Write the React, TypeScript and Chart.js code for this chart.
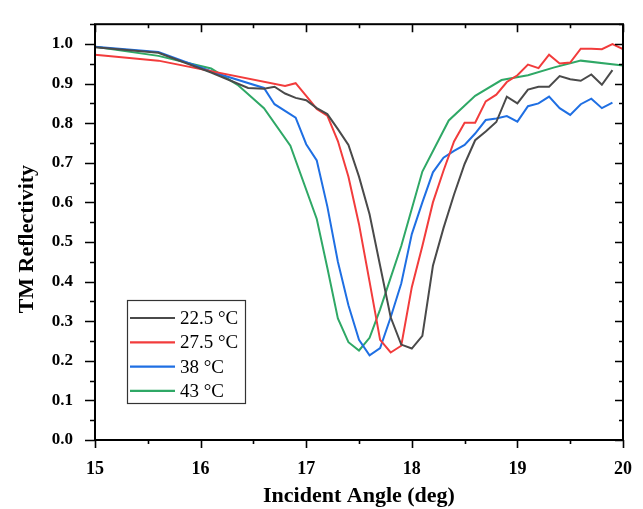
import { useEffect, useRef } from 'react';
import { Chart, registerables } from 'chart.js';

Chart.register(...registerables);

// ---- Data ----
const seriesLabels = ['22.5 °C', '27.5 °C', '38 °C', '43 °C'];
const seriesColors = ['#4a4a4a', '#f23c3c', '#1f6fe3', '#2fa866'];

const angles225 = [15.0, 15.6, 16.1, 16.45, 16.6, 16.7, 16.8, 16.9, 17.0, 17.1, 17.2, 17.3, 17.4, 17.5, 17.6, 17.7, 17.8, 17.9, 18.0, 18.1, 18.2, 18.3, 18.4, 18.5, 18.6, 18.7, 18.8, 18.9, 19.0, 19.1, 19.2, 19.3, 19.4, 19.5, 19.6, 19.7, 19.8, 19.9];
const values225 = [0.992, 0.978, 0.928, 0.889, 0.887, 0.892, 0.875, 0.864, 0.858, 0.838, 0.823, 0.785, 0.745, 0.665, 0.57, 0.44, 0.31, 0.241, 0.231, 0.263, 0.44, 0.535, 0.62, 0.697, 0.757, 0.779, 0.803, 0.867, 0.85, 0.885, 0.892, 0.892, 0.919, 0.911, 0.907, 0.923, 0.897, 0.934];

const angles275 = [15.0, 15.6, 16.8, 16.9, 17.0, 17.1, 17.2, 17.3, 17.4, 17.5, 17.6, 17.7, 17.8, 17.9, 18.0, 18.1, 18.2, 18.3, 18.4, 18.5, 18.6, 18.7, 18.8, 18.9, 19.0, 19.1, 19.2, 19.3, 19.4, 19.5, 19.6, 19.7, 19.8, 19.9, 20.0];
const values275 = [0.973, 0.958, 0.894, 0.901, 0.869, 0.836, 0.819, 0.755, 0.665, 0.545, 0.4, 0.253, 0.221, 0.238, 0.386, 0.49, 0.6, 0.68, 0.754, 0.801, 0.801, 0.855, 0.872, 0.904, 0.921, 0.948, 0.939, 0.973, 0.951, 0.953, 0.988, 0.988, 0.987, 1.0, 0.987];

const angles38 = [15.0, 15.6, 16.15, 16.6, 16.7, 16.9, 17.0, 17.1, 17.2, 17.3, 17.4, 17.5, 17.6, 17.7, 17.8, 17.9, 18.0, 18.1, 18.2, 18.3, 18.4, 18.5, 18.6, 18.7, 18.8, 18.9, 19.0, 19.1, 19.2, 19.3, 19.4, 19.5, 19.6, 19.7, 19.8, 19.9];
const values38 = [0.993, 0.98, 0.926, 0.889, 0.848, 0.814, 0.747, 0.706, 0.59, 0.45, 0.34, 0.253, 0.214, 0.232, 0.31, 0.395, 0.52, 0.6, 0.676, 0.713, 0.73, 0.745, 0.774, 0.808, 0.812, 0.818, 0.804, 0.843, 0.85, 0.867, 0.838, 0.821, 0.848, 0.862, 0.838, 0.852];

const angles43 = [15.0, 15.6, 16.1, 16.35, 16.6, 16.85, 17.1, 17.2, 17.3, 17.4, 17.5, 17.6, 17.7, 17.8, 17.9, 18.1, 18.35, 18.6, 18.85, 19.1, 19.35, 19.6, 20.0];
const values43 = [0.993, 0.97, 0.938, 0.897, 0.838, 0.743, 0.558, 0.435, 0.307, 0.247, 0.226, 0.258, 0.33, 0.41, 0.49, 0.678, 0.807, 0.869, 0.909, 0.921, 0.941, 0.958, 0.946];

const xTickLabels = [15, 16, 17, 18, 19, 20];
const yTickLabels = [0.0, 0.1, 0.2, 0.3, 0.4, 0.5, 0.6, 0.7, 0.8, 0.9, 1.0];

const xTitle = 'Incident Angle (deg)';
const yTitle = 'TM Reflectivity';

const allAngles = [angles225, angles275, angles38, angles43];
const allValues = [values225, values275, values38, values43];

const SERIF = '"Liberation Serif", "Times New Roman", serif';

const framePlugin = {
  id: 'frame',
  afterDraw(chart: any) {
    const { ctx, chartArea, scales } = chart;
    const { left, right, top, bottom } = chartArea;
    const x = scales.x;
    const y = scales.y;
    ctx.save();
    ctx.strokeStyle = '#000';
    ctx.lineWidth = 2;
    ctx.strokeRect(left, top, right - left, bottom - top);

    ctx.lineWidth = 1.6;
    ctx.beginPath();
    for (let i = 0; i <= 10; i++) {
      const v = 15 + i * 0.5;
      const px = Math.round(x.getPixelForValue(v)) + 0.5;
      const major = i % 2 === 0;
      const len = major ? 8 : 4;
      ctx.moveTo(px, bottom);
      ctx.lineTo(px, bottom + len);
      ctx.moveTo(px, top);
      ctx.lineTo(px, top + len);
    }
    for (let i = 0; i <= 21; i++) {
      const v = i * 0.05;
      const py = Math.round(y.getPixelForValue(v)) + 0.5;
      const major = i % 2 === 0;
      ctx.moveTo(left, py);
      ctx.lineTo(left - (major ? 10 : 5), py);
      ctx.moveTo(right, py);
      ctx.lineTo(right - (major ? 8 : 4), py);
    }
    ctx.stroke();

    // axis titles
    ctx.fillStyle = '#000';
    ctx.font = `bold 22px ${SERIF}`;
    ctx.textAlign = 'center';
    ctx.textBaseline = 'middle';
    ctx.fillText(xTitle, (left + right) / 2, 496);
    ctx.save();
    ctx.translate(27, (top + bottom) / 2 + 7);
    ctx.rotate(-Math.PI / 2);
    ctx.fillText(yTitle, 0, 0);
    ctx.restore();

    // legend
    const bx = left + 32;
    const by = 300;
    const bw = 118;
    const bh = 103;
    ctx.fillStyle = '#fff';
    ctx.fillRect(bx, by, bw, bh);
    ctx.strokeStyle = '#333';
    ctx.lineWidth = 1.2;
    ctx.strokeRect(bx + 0.5, by + 0.5, bw, bh);
    ctx.font = `19px ${SERIF}`;
    ctx.textAlign = 'left';
    ctx.textBaseline = 'middle';
    for (let i = 0; i < seriesLabels.length; i++) {
      const ry = by + 18 + i * 24.3;
      ctx.strokeStyle = seriesColors[i];
      ctx.lineWidth = 2.2;
      ctx.beginPath();
      ctx.moveTo(bx + 3, ry);
      ctx.lineTo(bx + 48, ry);
      ctx.stroke();
      ctx.fillStyle = '#000';
      ctx.fillText(seriesLabels[i], bx + 53, ry + 1);
    }
    ctx.restore();
  },
};

export default function App() {
  const canvasRef = useRef<HTMLCanvasElement | null>(null);

  useEffect(() => {
    const canvas = canvasRef.current;
    if (!canvas) return;
    const datasets = seriesLabels.map((label, i) => ({
      label,
      data: allAngles[i].map((a, j) => ({ x: a, y: allValues[i][j] })),
      borderColor: seriesColors[i],
      backgroundColor: seriesColors[i],
      borderWidth: 2,
      pointRadius: 0,
      tension: 0,
      fill: false,
    }));
    const chart = new Chart(canvas, {
      type: 'line',
      data: { datasets },
      plugins: [framePlugin],
      options: {
        responsive: false,
        animation: false,
        maintainAspectRatio: false,
        layout: { padding: { left: 0, right: 18, top: 13, bottom: 0 } },
        plugins: {
          legend: { display: false },
          tooltip: { enabled: false },
          title: { display: false },
        },
        scales: {
          x: {
            type: 'linear',
            min: 15,
            max: 20,
            afterFit: (s: any) => {
              s.height = 69;
            },
            afterBuildTicks: (s: any) => {
              s.ticks = xTickLabels.map((v) => ({ value: v }));
            },
            ticks: {
              maxRotation: 0,
              autoSkip: false,
              padding: 11,
              color: '#000',
              font: { family: SERIF, weight: 'bold', size: 18 },
              callback: (v: any) => String(v),
            },
            grid: { display: false },
            border: { display: false },
          },
          y: {
            type: 'linear',
            min: 0,
            max: 1.05,
            afterFit: (s: any) => {
              s.width = 95;
            },
            afterBuildTicks: (s: any) => {
              s.ticks = yTickLabels.map((v) => ({ value: v }));
            },
            ticks: {
              autoSkip: false,
              padding: 14,
              color: '#000',
              font: { family: SERIF, weight: 'bold', size: 17 },
              callback: (v: any) => Number(v).toFixed(1),
            },
            grid: { display: false },
            border: { display: false },
          },
        },
      },
    } as any);
    return () => chart.destroy();
  }, []);

  return (
    <div style={{ position: 'fixed', left: 0, top: 0, width: 643, height: 509, background: '#fff' }}>
      <canvas ref={canvasRef} width={643} height={509} style={{ display: 'block' }} />
    </div>
  );
}
